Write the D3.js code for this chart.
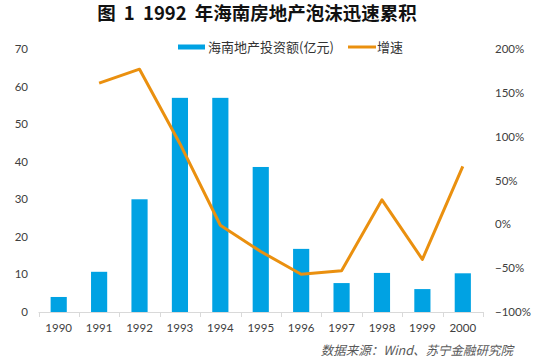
<!DOCTYPE html>
<html><head><meta charset="utf-8">
<script src="https://cdn.jsdelivr.net/npm/d3@7/dist/d3.min.js"></script>
<style>
html,body{margin:0;padding:0;background:#fff;}
svg{display:block;}
</style></head>
<body>
<svg id="c" width="535" height="361"></svg>
<script>
const years = ["1990","1991","1992","1993","1994","1995","1996","1997","1998","1999","2000"];
const investment = [4.0, 10.7, 30.0, 57.0, 57.0, 38.6, 16.8, 7.7, 10.4, 6.1, 10.3];
const growth = [null, 1.61, 1.77, 0.92, -0.01, -0.31, -0.57, -0.53, 0.28, -0.40, 0.66];
const leftTicks = [0,10,20,30,40,50,60,70];
const rightTicks = [-1,-0.5,0,0.5,1,1.5,2];
const titleText = "图 1 1992 年海南房地产泡沫迅速累积";
const seriesNames = ["海南地产投资额(亿元)", "增速"];
const sourceText = "数据来源：Wind、苏宁金融研究院";

const BLUE = "#00a2e3", ORANGE = "#ea900f";
const svg = d3.select("#c");
const numFont = "Lato, 'Noto Sans', sans-serif";
const cjkFont = "'Noto Sans CJK SC', sans-serif";

const x = d3.scaleBand().domain(years).range([38.5, 483]).padding(0);
const yL = d3.scaleLinear().domain([0,70]).range([312,49]);
const yR = d3.scaleLinear().domain([-1,2]).range([312,49]);

// title
svg.append("text").attr("x",257).attr("y",20).attr("text-anchor","middle")
  .attr("font-family",cjkFont).attr("font-weight",700).attr("font-size",18.5)
  .attr("word-spacing",4).attr("fill","#111")
  .text(titleText);

// bars
const bw = x.step()*0.4;
svg.append("g").selectAll("rect").data(investment).join("rect")
  .attr("x",(d,i)=>x(years[i])+x.bandwidth()/2-bw/2)
  .attr("y",d=>yL(d)).attr("width",bw).attr("height",d=>yL(0)-yL(d))
  .attr("fill",BLUE);

// x axis
const xa = svg.append("g");
xa.append("line").attr("x1",x.range()[0]).attr("x2",x.range()[1]).attr("y1",312.5).attr("y2",312.5)
  .attr("stroke","#d9d9d9").attr("stroke-width",1);
const bounds = years.map(y=>x(y)).concat([x.range()[1]]);
xa.selectAll("line.t").data(bounds).join("line").attr("class","t")
  .attr("x1",d=>Math.round(d)+0.5).attr("x2",d=>Math.round(d)+0.5).attr("y1",312).attr("y2",317)
  .attr("stroke","#d9d9d9");
xa.selectAll("text").data(years).join("text")
  .attr("x",d=>x(d)+x.bandwidth()/2).attr("y",332).attr("text-anchor","middle")
  .attr("font-family",numFont).attr("font-size",11.5).attr("fill","#404040").text(d=>d);

// left axis labels
svg.append("g").selectAll("text").data(leftTicks).join("text")
  .attr("x",28).attr("y",d=>yL(d)+4).attr("text-anchor","end")
  .attr("font-family",numFont).attr("font-size",11.5).attr("fill","#404040").text(d=>d);

// right axis labels
const pf = d3.format(".0%");
svg.append("g").selectAll("text").data(rightTicks).join("text")
  .attr("x",495).attr("y",d=>yR(d)+4).attr("text-anchor","start")
  .attr("font-family",numFont).attr("font-size",11.5).attr("fill","#404040").text(d=>pf(d));

// line
const line = d3.line().defined(d=>d!==null)
  .x((d,i)=>x(years[i])+x.bandwidth()/2).y(d=>yR(d));
svg.append("path").datum(growth).attr("d",line).attr("fill","none")
  .attr("stroke",ORANGE).attr("stroke-width",3).attr("stroke-linejoin","round");

// legend
svg.append("rect").attr("x",178).attr("y",44.5).attr("width",27).attr("height",5).attr("fill",BLUE);
svg.append("text").attr("x",208).attr("y",51.5).attr("font-family",cjkFont).attr("font-size",13)
  .attr("fill","#333").text(seriesNames[0]);
svg.append("line").attr("x1",348).attr("x2",376).attr("y1",47).attr("y2",47)
  .attr("stroke",ORANGE).attr("stroke-width",3);
svg.append("text").attr("x",377).attr("y",51.5).attr("font-family",cjkFont).attr("font-size",13)
  .attr("fill","#333").text(seriesNames[1]);

// source
svg.append("text").attr("x",513).attr("y",355).attr("text-anchor","end")
  .attr("font-family",cjkFont).attr("font-size",12.5).attr("font-style","italic")
  .attr("fill","#595959").text(sourceText);
</script>
</body></html>
